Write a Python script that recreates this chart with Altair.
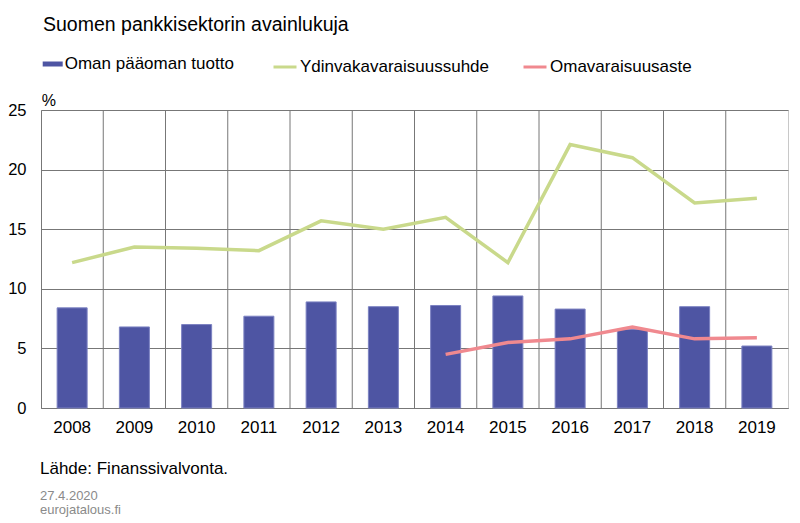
import altair as alt
import pandas as pd

# ---- data ----
years = [str(y) for y in range(2008, 2020)]
roe = [8.4, 6.8, 7.0, 7.7, 8.9, 8.5, 8.6, 9.4, 8.3, 6.6, 8.5, 5.2]
cet1 = [12.2, 13.5, 13.4, 13.2, 15.7, 15.0, 16.0, 12.2, 22.1, 21.0, 17.2, 17.6]
equity_ratio = [None, None, None, None, None, None, 4.5, 5.5, 5.8, 6.8, 5.8, 5.9]

s_roe = "Oman pääoman tuotto"
s_cet1 = "Ydinvakavaraisuussuhde"
s_eq = "Omavaraisuusaste"

title_text = "Suomen pankkisektorin avainlukuja"
unit_text = "%"
source_text = "Lähde: Finanssivalvonta."
date_text = "27.4.2020"
site_text = "eurojatalous.fi"

y_ticks = [0, 5, 10, 15, 20, 25]

FONT = "Liberation Sans"
GRID = "#777777"
BAR = "#4E55A3"
GREEN = "#C9D98B"
PINK = "#F0898F"

bars_df = pd.DataFrame({"year": years, "value": roe, "series": s_roe})
lines_df = pd.concat([
    pd.DataFrame({"year": years, "value": cet1, "series": s_cet1}),
    pd.DataFrame({"year": years, "value": equity_ratio, "series": s_eq}),
]).dropna()
grid_df = pd.DataFrame({"year": years[1:]})

xscale = alt.Scale(domain=years, paddingInner=0, paddingOuter=0)
yscale = alt.Scale(domain=[0, 25], nice=False)

x_axis = alt.Axis(title=None, labelAngle=0, labelFontSize=17, labelFont=FONT,
                  labelColor="black", labelPadding=11, ticks=False,
                  domainColor=GRID, grid=False)
y_axis = alt.Axis(title=None, values=y_ticks, labelFontSize=16.5, labelFont=FONT,
                  labelColor="black", labelPadding=15, ticks=False,
                  domainColor=GRID, gridColor=GRID, gridOpacity=1, gridWidth=1)

vgrid = alt.Chart(grid_df).mark_rule(color=GRID, strokeWidth=1).encode(
    x=alt.X("year:O", bandPosition=0, scale=xscale, axis=x_axis)
)

bars = alt.Chart(bars_df).mark_bar(size=30, stroke="#7c82c2", strokeWidth=1).encode(
    x=alt.X("year:O", scale=xscale, axis=x_axis),
    y=alt.Y("value:Q", scale=yscale, axis=y_axis),
    fill=alt.Fill("series:N", scale=alt.Scale(domain=[s_roe], range=[BAR]),
                  legend=alt.Legend(title=None, orient="none", legendX=1.7, legendY=-56,
                                    symbolType="M-1,-0.25H1V0.25H-1Z", symbolSize=400,
                                    symbolStrokeWidth=0, labelFontSize=17, labelFont=FONT,
                                    labelColor="black", labelOffset=2, labelLimit=400,
                                    padding=0)),
)

lines = alt.Chart(lines_df).mark_line(strokeWidth=3.5).encode(
    x=alt.X("year:O", scale=xscale, axis=x_axis),
    y=alt.Y("value:Q", scale=yscale, axis=y_axis),
    stroke=alt.Stroke("series:N", scale=alt.Scale(domain=[s_cet1, s_eq], range=[GREEN, PINK]),
                      legend=alt.Legend(title=None, orient="none", legendX=231, legendY=-56,
                                        direction="horizontal", symbolType="stroke",
                                        symbolSize=529, symbolStrokeWidth=3,
                                        labelFontSize=17, labelFont=FONT, labelColor="black",
                                        labelOffset=2, labelLimit=400, columnPadding=27,
                                        padding=0)),
)


def label(text, x, y, size, color="black"):
    return alt.Chart(pd.DataFrame({"t": [text]})).mark_text(
        align="left", baseline="alphabetic", font=FONT, fontSize=size, color=color
    ).encode(text="t:N", x=alt.value(x), y=alt.value(y))


texts = [
    label(title_text, 2, -79, 19.5),
    label(unit_text, 0.7, -4, 16),
    label(source_text, -1, 364, 17),
    label(date_text, -1, 390, 13, "#8a8a8a"),
    label(site_text, -1, 404, 13, "#8a8a8a"),
]

chart = alt.layer(vgrid, bars, lines, *texts).properties(
    width=747, height=298,
    autosize=alt.AutoSizeParams(type="none"),
    padding={"left": 33, "top": 102, "right": 4, "bottom": 111},
    background="white",
).configure_view(stroke="#c8c8c8", strokeWidth=1)

chart.save("out.html", embed_options={"renderer": "svg", "actions": False})
